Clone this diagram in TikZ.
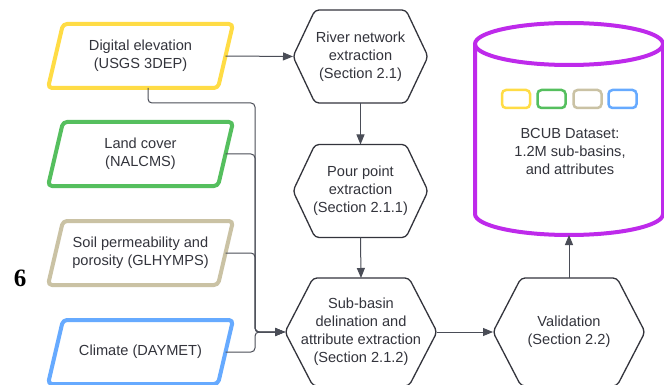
\documentclass[tikz,border=0pt]{standalone}
\usepackage{fontspec}
\setmainfont{Liberation Sans}
\newfontfamily\digitfont{Liberation Serif}
\usetikzlibrary{calc,arrows.meta}
\definecolor{cyel}{HTML}{FFDC45}
\definecolor{cgrn}{HTML}{55BF5E}
\definecolor{ctan}{HTML}{CAC2A4}
\definecolor{cblu}{HTML}{66AAFF}
\definecolor{cpur}{HTML}{BE2AEB}
\definecolor{ink}{HTML}{33343C}
\definecolor{wire}{HTML}{4A4D57}
\begin{document}
\begin{tikzpicture}[x=1pt,y=-1pt,
  txt/.style={font=\fontsize{14.6}{18}\selectfont, text=ink, align=center, inner sep=0pt, outer sep=0pt},
  databox/.style={txt, minimum width=170pt, minimum height=64pt},
  hexbox/.style={txt, minimum width=135pt, minimum height=93pt},
  bighex/.style={txt, minimum width=152pt, minimum height=108pt},
  para/.style={line width=4pt, rounded corners=4pt, line join=round},
  hexline/.style={draw=ink, line width=1.3pt, rounded corners=4pt, line join=round},
  cyl/.style={draw=cpur, line width=4pt},
  swatch/.style={minimum width=28pt, minimum height=18pt, inner sep=0pt, rounded corners=4pt, line width=2.5pt},
  conn/.style={draw=wire, line width=1pt, rounded corners=4pt},
  arr/.style={conn, -{Triangle[length=10pt,width=8pt]}},
]
\useasboundingbox[fill=white] (0,0) rectangle (664,385);

% input data boxes
\node[databox] (dem)  at (140.5,56)  {Digital elevation\\(USGS 3DEP)};
\node[databox] (land) at (140.5,154) {Land cover\\(NALCMS)};
\node[databox] (soil) at (140.5,253) {Soil permeability and\\porosity (GLHYMPS)};
\node[databox] (clim) at (140.5,352) {Climate (DAYMET)};
\foreach \n/\c in {dem/cyel, land/cgrn, soil/ctan, clim/cblu}
  \draw[para, draw=\c] ($(\n.north west)+(7.5,0)$) -- ($(\n.north east)+(7.5,0)$)
     -- ($(\n.south east)-(7.5,0)$) -- ($(\n.south west)-(7.5,0)$) -- cycle;

% process hexagons
\node[hexbox] (river) at (360.5,56.5) {River network\\extraction\\(Section 2.1)};
\node[hexbox] (pour)  at (360.5,191)  {Pour point\\extraction\\(Section 2.1.1)};
\node[bighex] (sub)   at (361,332)    {Sub-basin\\delination and\\attribute extraction\\(Section 2.1.2)};
\node[bighex] (val)   at (569,332)    {Validation\\(Section 2.2)};
\foreach \n/\s in {river/22, pour/22, sub/28, val/28}
  \draw[hexline] (\n.west) -- ($(\n.north west)+(\s,0)$) -- ($(\n.north east)-(\s,0)$)
     -- (\n.east) -- ($(\n.south east)-(\s,0)$) -- ($(\n.south west)+(\s,0)$) -- cycle;

% dataset cylinder
\node[minimum width=188pt, minimum height=212pt, inner sep=0pt, outer sep=0pt] (db) at (569,129) {};
\draw[cyl] ($(db.north)+(0,21)$) ellipse [x radius=94pt, y radius=21pt];
\draw[cyl] ($(db.north west)+(0,21)$) -- ($(db.south west)-(0,21)$)
   arc[start angle=180, end angle=360, x radius=94pt, y radius=21pt]
   -- ($(db.north east)+(0,21)$);
\foreach \x/\c/\i in {516/cyel/1, 551.5/cgrn/2, 587.5/ctan/3, 622.5/cblu/4}
  \node[swatch, draw=\c] (sw\i) at (\x,99) {};
\node[txt] (dbtxt) at (570,151) {BCUB Dataset:\\1.2M sub-basins,\\and attributes};

% figure number
\node[font={\digitfont\fontsize{25}{25}\selectfont\bfseries}, inner sep=0pt] (six) at (20,278) {6};

% connectors
\coordinate (bus) at (255,0);
\draw[arr] (dem.east) -- (river.west);
\draw[arr] (river.south) -- (pour.north);
\draw[arr] (pour.south) -- (sub.north);
\draw[arr] (sub.east) -- (val.west);
\draw[arr] (val.north) -- (db.south);
\draw[arr] ($(dem.south)+(7.5,0)$) -- ++(0,15) -| (bus |- sub.west) -- (sub.west);
\draw[arr] (land.east) -| (bus |- sub.west) -- (sub.west);
\draw[arr] (soil.east) -| (bus |- sub.west) -- (sub.west);
\draw[arr] (clim.east) -| (bus |- sub.west) -- (sub.west);
\end{tikzpicture}
\end{document}
